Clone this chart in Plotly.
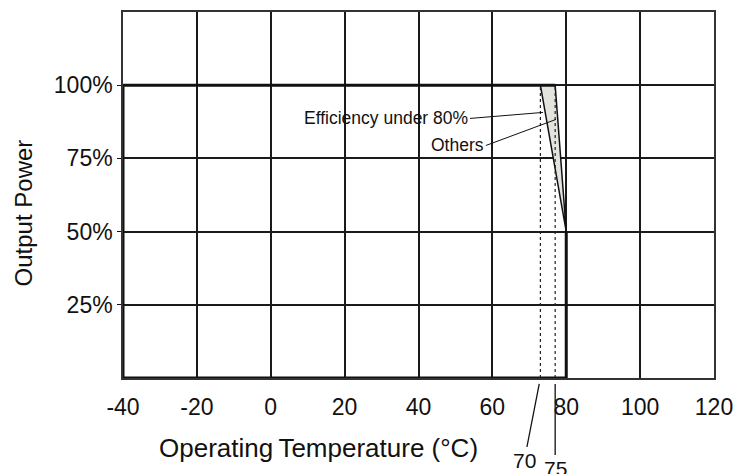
import plotly.graph_objects as go

# ---- data ----
x_ticks = [-40, -20, 0, 20, 40, 60, 80, 100, 120]
x_tick_text = ["-40", "-20", "0", "20", "40", "60", "80", "100", "120"]
y_ticks = [25, 50, 75, 100]
y_tick_text = ["25%", "50%", "75%", "100%"]

# derating outline (temperature, output power %)
outline_x = [-40, -40, 77, None, 80, 80, -40]
outline_y = [0, 100, 100, None, 50, 0, 0]

# shaded region between the two derating curves
band_x = [73, 77, 80, 73]
band_y = [100, 100, 50, 100]

# derating start points (drawn position) and their labels
start_x = [73, 77]
start_labels = ["70", "75"]

FONT = "Liberation Sans"
INK = "#111"

fig = go.Figure()

# shaded band
fig.add_trace(go.Scatter(x=band_x, y=band_y, mode="lines", fill="toself",
                         fillcolor="#e4e4df", line=dict(color=INK, width=1.5),
                         hoverinfo="skip", showlegend=False))

# dotted verticals
for sx in start_x:
    fig.add_trace(go.Scatter(x=[sx, sx], y=[0, 100], mode="lines",
                             line=dict(color="#222", width=1.2, dash="dot"),
                             hoverinfo="skip", showlegend=False))

# main outline
fig.add_trace(go.Scatter(x=outline_x, y=outline_y, mode="lines",
                         line=dict(color=INK, width=3),
                         hoverinfo="skip", showlegend=False, connectgaps=False))

# annotations
ann = []
ann.append(dict(x=73.7, y=90.7, xref="x", yref="y", text="Efficiency under 80%",
                showarrow=True, arrowhead=0, arrowwidth=1, arrowcolor=INK,
                ax=-73, ay=6, xanchor="right", yanchor="middle",
                font=dict(family=FONT, size=17.5, color=INK)))
ann.append(dict(x=77.2, y=88.3, xref="x", yref="y", text="Others",
                showarrow=True, arrowhead=0, arrowwidth=1, arrowcolor=INK,
                ax=-70, ay=26, xanchor="right", yanchor="middle",
                font=dict(family=FONT, size=17.5, color=INK)))
for sx, lab, axo, ayo in zip(start_x, start_labels, [-16, 0], [82, 90]):
    ann.append(dict(x=sx, y=0, xref="x", yref="y", text=lab,
                    showarrow=True, arrowhead=0, arrowwidth=1.3, arrowcolor=INK,
                    ax=axo, ay=ayo, standoff=6,
                    font=dict(family=FONT, size=21, color=INK)))
ann.append(dict(x=0.057, y=-0.19, xref="paper", yref="paper",
                text="Operating\u2009Temperature (°C)",
                showarrow=False, xanchor="left", yanchor="middle",
                font=dict(family=FONT, size=26, color=INK)))
ann.append(dict(x=-0.169, y=0.45, xref="paper", yref="paper", text="Output Power",
                showarrow=False, textangle=-90, xanchor="center", yanchor="middle",
                font=dict(family=FONT, size=24, color=INK)))
fig.update_layout(annotations=ann)

fig.update_xaxes(range=[-40, 120], tickvals=x_ticks, ticktext=x_tick_text,
                 showgrid=True, gridcolor="#1a1a1a", gridwidth=1.5,
                 zeroline=False, showline=True, linecolor="#333", linewidth=1.5, mirror=True,
                 ticks="", ticklabelstandoff=8,
                 tickfont=dict(family=FONT, size=23, color=INK),
                 fixedrange=True)
fig.update_yaxes(range=[0, 125], tickvals=y_ticks, ticktext=y_tick_text,
                 showgrid=True, gridcolor="#1a1a1a", gridwidth=1.5,
                 zeroline=False, showline=True, linecolor="#333", linewidth=1.5, mirror=True,
                 ticks="outside", ticklen=4, tickcolor=INK,
                 tickfont=dict(family=FONT, size=23, color=INK),
                 fixedrange=True)

fig.update_layout(width=750, height=474,
                  margin=dict(l=115, r=44, t=2, b=104),
                  plot_bgcolor="white", paper_bgcolor="white",
                  font=dict(family=FONT, color=INK))

fig.write_html("out.html")
